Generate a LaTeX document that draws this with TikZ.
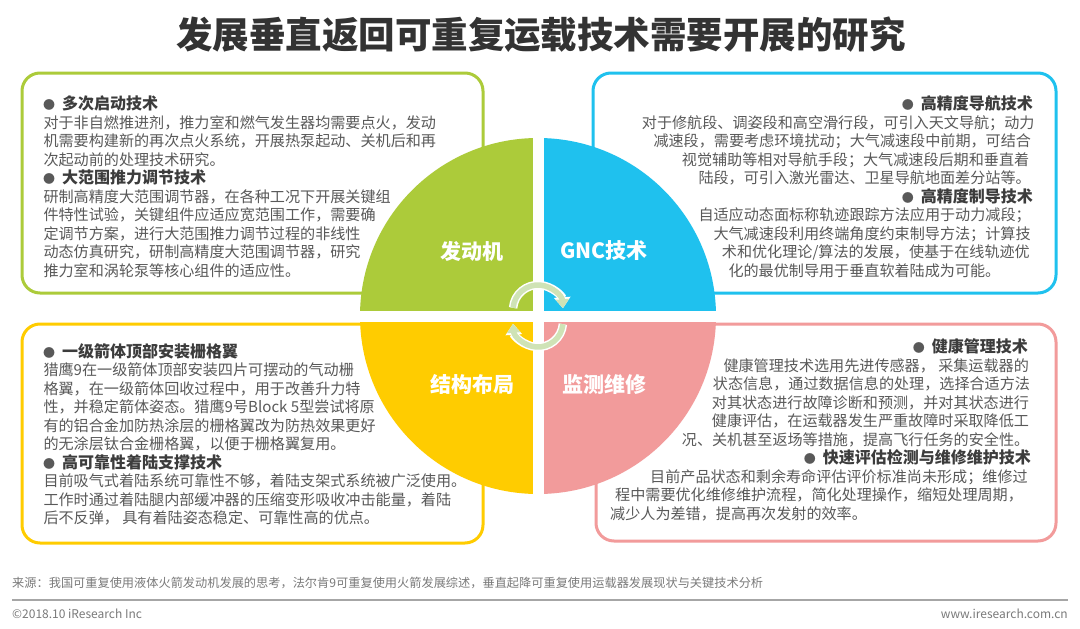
\documentclass[tikz,border=0pt]{standalone}
\usepackage{fontspec}
\setmainfont{Noto Sans CJK SC}
\usetikzlibrary{arrows.meta}
\definecolor{cgreen}{HTML}{ACCB3A}
\definecolor{cblue}{HTML}{1FC1EE}
\definecolor{cyellow}{HTML}{FFCC00}
\definecolor{cpink}{HTML}{F29B9B}
\definecolor{bodygray}{HTML}{595959}
\definecolor{headgray}{HTML}{3C3C3C}
\definecolor{titlegray}{HTML}{333333}
\definecolor{arrowgreen}{HTML}{CFE3B6}
\definecolor{footgray}{HTML}{7A7A7A}
\newcommand\myhd[1]{{\color{bodygray}\fontsize{12pt}{12pt}\selectfont ●}\hspace{7pt}{\color{headgray}\fontsize{16pt}{18pt}\selectfont\bfseries #1}}
\tikzset{
  boxframe/.style={line width=3pt, rounded corners=18pt, fill=white},
  txt/.style={inner sep=0pt, anchor=base west, text=bodygray, font=\fontsize{15.1pt}{18pt}\selectfont},
  txtr/.style={txt, anchor=base east},
  quadlabel/.style={inner sep=0pt, text=white, font=\fontsize{21pt}{24pt}\selectfont\bfseries},
  arcw/.style={white, line width=8.5pt, -{Triangle[width=16pt,length=11pt]}},
  arcg/.style={arrowgreen, line width=5.5pt, -{Triangle[width=13pt,length=9pt]}},
  foot/.style={inner sep=0pt, text=footgray, font=\fontsize{12.2pt}{14pt}\selectfont},
}
\begin{document}
\begin{tikzpicture}[x=1pt,y=-1pt]
\useasboundingbox (0,0) rectangle (1080,629);
\fill[white] (0,0) rectangle (1080,629);

% title
\node[inner sep=0pt, text=titlegray, font=\fontsize{36.5pt}{40pt}\selectfont\bfseries] (title) at (541,35) {发展垂直返回可重复运载技术需要开展的研究};

% boxes
\draw[boxframe, draw=cgreen] (22,73) rectangle (483,293);
\draw[boxframe, draw=cblue] (593,73) rectangle (1056,293);
\draw[boxframe, draw=cyellow] (22,324) rectangle (483,543);
\draw[boxframe, draw=cpink] (596,324) rectangle (1056,541);

% circle quadrants
\coordinate (O) at (538,316);
\fill[cgreen] (O) -- ++(180:178) arc[start angle=180,end angle=270,radius=178] -- cycle;
\fill[cblue] (O) -- ++(270:178) arc[start angle=270,end angle=360,radius=178] -- cycle;
\fill[cpink] (O) -- ++(0:178) arc[start angle=0,end angle=90,radius=178] -- cycle;
\fill[cyellow] (O) -- ++(90:178) arc[start angle=90,end angle=180,radius=178] -- cycle;
\draw[white, line width=11pt] (538,134) -- (538,498);
\draw[white, line width=11pt] (356,316) -- (720,316);

% circular arrows
\coordinate (ua) at (538,310);
\coordinate (la) at (538,322);
\draw[arcw] ([shift={(185:25)}]ua) arc[start angle=185,end angle=356,radius=25];
\draw[arcg] ([shift={(185:25)}]ua) arc[start angle=185,end angle=356,radius=25];
\draw[arcw] ([shift={(5:25)}]la) arc[start angle=5,end angle=176,radius=25];
\draw[arcg] ([shift={(5:25)}]la) arc[start angle=5,end angle=176,radius=25];

% quadrant labels
\node[quadlabel] (q1) at (472,251) {发动机};
\node[quadlabel] (q2) at (604,251) {GNC技术};
\node[quadlabel] (q3) at (472,384) {结构布局};
\node[quadlabel] (q4) at (604,384) {监测维修};

% green box text
\node[txt] (g1) at (43,109.9) {\myhd{多次启动技术}};
\node[txt] (g2) at (43.3,128.2) {对于非自燃推进剂，推力室和燃气发生器均需要点火，发动};
\node[txt] (g3) at (43.3,146.7) {机需要构建新的再次点火系统，开展热泵起动、关机后和再};
\node[txt] (g4) at (43.3,165.2) {次起动前的处理技术研究。};
\node[txt] (g5) at (43,183.9) {\myhd{大范围推力调节技术}};
\node[txt] (g6) at (43.3,202.2) {研制高精度大范围调节器，在各种工况下开展关键组};
\node[txt] (g7) at (43.3,220.7) {件特性试验，关键组件应适应宽范围工作，需要确};
\node[txt] (g8) at (43.3,239.2) {定调节方案，进行大范围推力调节过程的非线性};
\node[txt] (g9) at (43.3,257.7) {动态仿真研究，研制高精度大范围调节器，研究};
\node[txt] (g10) at (43.3,276.2) {推力室和涡轮泵等核心组件的适应性。};

% blue box text
\node[txtr] (b1) at (1033,109.9) {\myhd{高精度导航技术}};
\node[txt] (b2) at (641.7,128.2) {对于修航段、调姿段和高空滑行段，可引入天文导航；动力};
\node[txt] (b3) at (653.3,146.7) {减速段，需要考虑环境扰动；大气减速段中前期，可结合};
\node[txt] (b4) at (681.7,165.2) {视觉辅助等相对导航手段；大气减速段后期和垂直着};
\node[txt] (b5) at (698.3,183.7) {陆段，可引入激光雷达、卫星导航地面差分站等。};
\node[txtr] (b6) at (1033,202.4) {\myhd{高精度制导技术}};
\node[txt] (b7) at (698.3,220.7) {自适应动态面标称轨迹跟踪方法应用于动力减段；};
\node[txt] (b8) at (713.3,239.2) {大气减速段利用终端角度约束制导方法；计算技};
\node[txt] (b9) at (721.7,257.7) {术和优化理论/算法的发展，使基于在线轨迹优};
\node[txt] (b10) at (728.3,276.2) {化的最优制导用于垂直软着陆成为可能。};

% yellow box text
\node[txt] (y1) at (43,357.4) {\myhd{一级箭体顶部安装栅格翼}};
\node[txt] (y2) at (43.3,375.7) {猎鹰9在一级箭体顶部安装四片可摆动的气动栅};
\node[txt] (y3) at (43.3,394.2) {格翼，在一级箭体回收过程中，用于改善升力特};
\node[txt] (y4) at (43.3,412.7) {性，并稳定箭体姿态。猎鹰9号Block 5型尝试将原};
\node[txt] (y5) at (43.3,431.2) {有的铝合金加防热涂层的栅格翼改为防热效果更好};
\node[txt] (y6) at (43.3,449.7) {的无涂层钛合金栅格翼，以便于栅格翼复用。};
\node[txt] (y7) at (43,468.4) {\myhd{高可靠性着陆支撑技术}};
\node[txt] (y8) at (43.3,486.7) {目前吸气式着陆系统可靠性不够，着陆支架式系统被广泛使用。};
\node[txt] (y9) at (43.3,505.2) {工作时通过着陆腿内部缓冲器的压缩变形吸收冲击能量，着陆};
\node[txt] (y10) at (43.3,523.7) {后不反弹， 具有着陆姿态稳定、可靠性高的优点。};

% pink box text
\node[txtr] (p1) at (1028,352.9) {\myhd{健康管理技术}};
\node[txt] (p2) at (723.3,371.2) {健康管理技术选用先进传感器， 采集运载器的};
\node[txt] (p3) at (712.7,389.7) {状态信息，通过数据信息的处理，选择合适方法};
\node[txt] (p4) at (711.7,408.2) {对其状态进行故障诊断和预测，并对其状态进行};
\node[txt] (p5) at (711.7,426.7) {健康评估，在运载器发生严重故障时采取降低工};
\node[txt] (p6) at (681.7,445.2) {况、关机甚至返场等措施，提高飞行任务的安全性。};
\node[txtr] (p7) at (1031,463.9) {\myhd{快速评估检测与维修维护技术}};
\node[txt] (p8) at (650,482.2) {目前产品状态和剩余寿命评估评价标准尚未形成；维修过};
\node[txt] (p9) at (615,500.7) {程中需要优化维修维护流程，简化处理操作，缩短处理周期，};
\node[txt] (p10) at (610,519.2) {减少人为差错，提高再次发射的效率。};

% footer
\node[foot, anchor=west] (src) at (12,583) {来源：我国可重复使用液体火箭发动机发展的思考，法尔肯9可重复使用火箭发展综述，垂直起降可重复使用运载器发展现状与关键技术分析};
\coordinate (fl) at (12,600);
\coordinate (fr) at (1068,600);
\draw[gray!70, line width=1.3pt] (fl) -- (fr);
\node[foot, anchor=west, font=\fontsize{12pt}{14pt}\selectfont] (copy) at (12,614) {©2018.10 iResearch Inc};
\node[foot, anchor=east, font=\fontsize{12pt}{14pt}\selectfont] (web) at (1068,614) {www.iresearch.com.cn};
\end{tikzpicture}
\end{document}
